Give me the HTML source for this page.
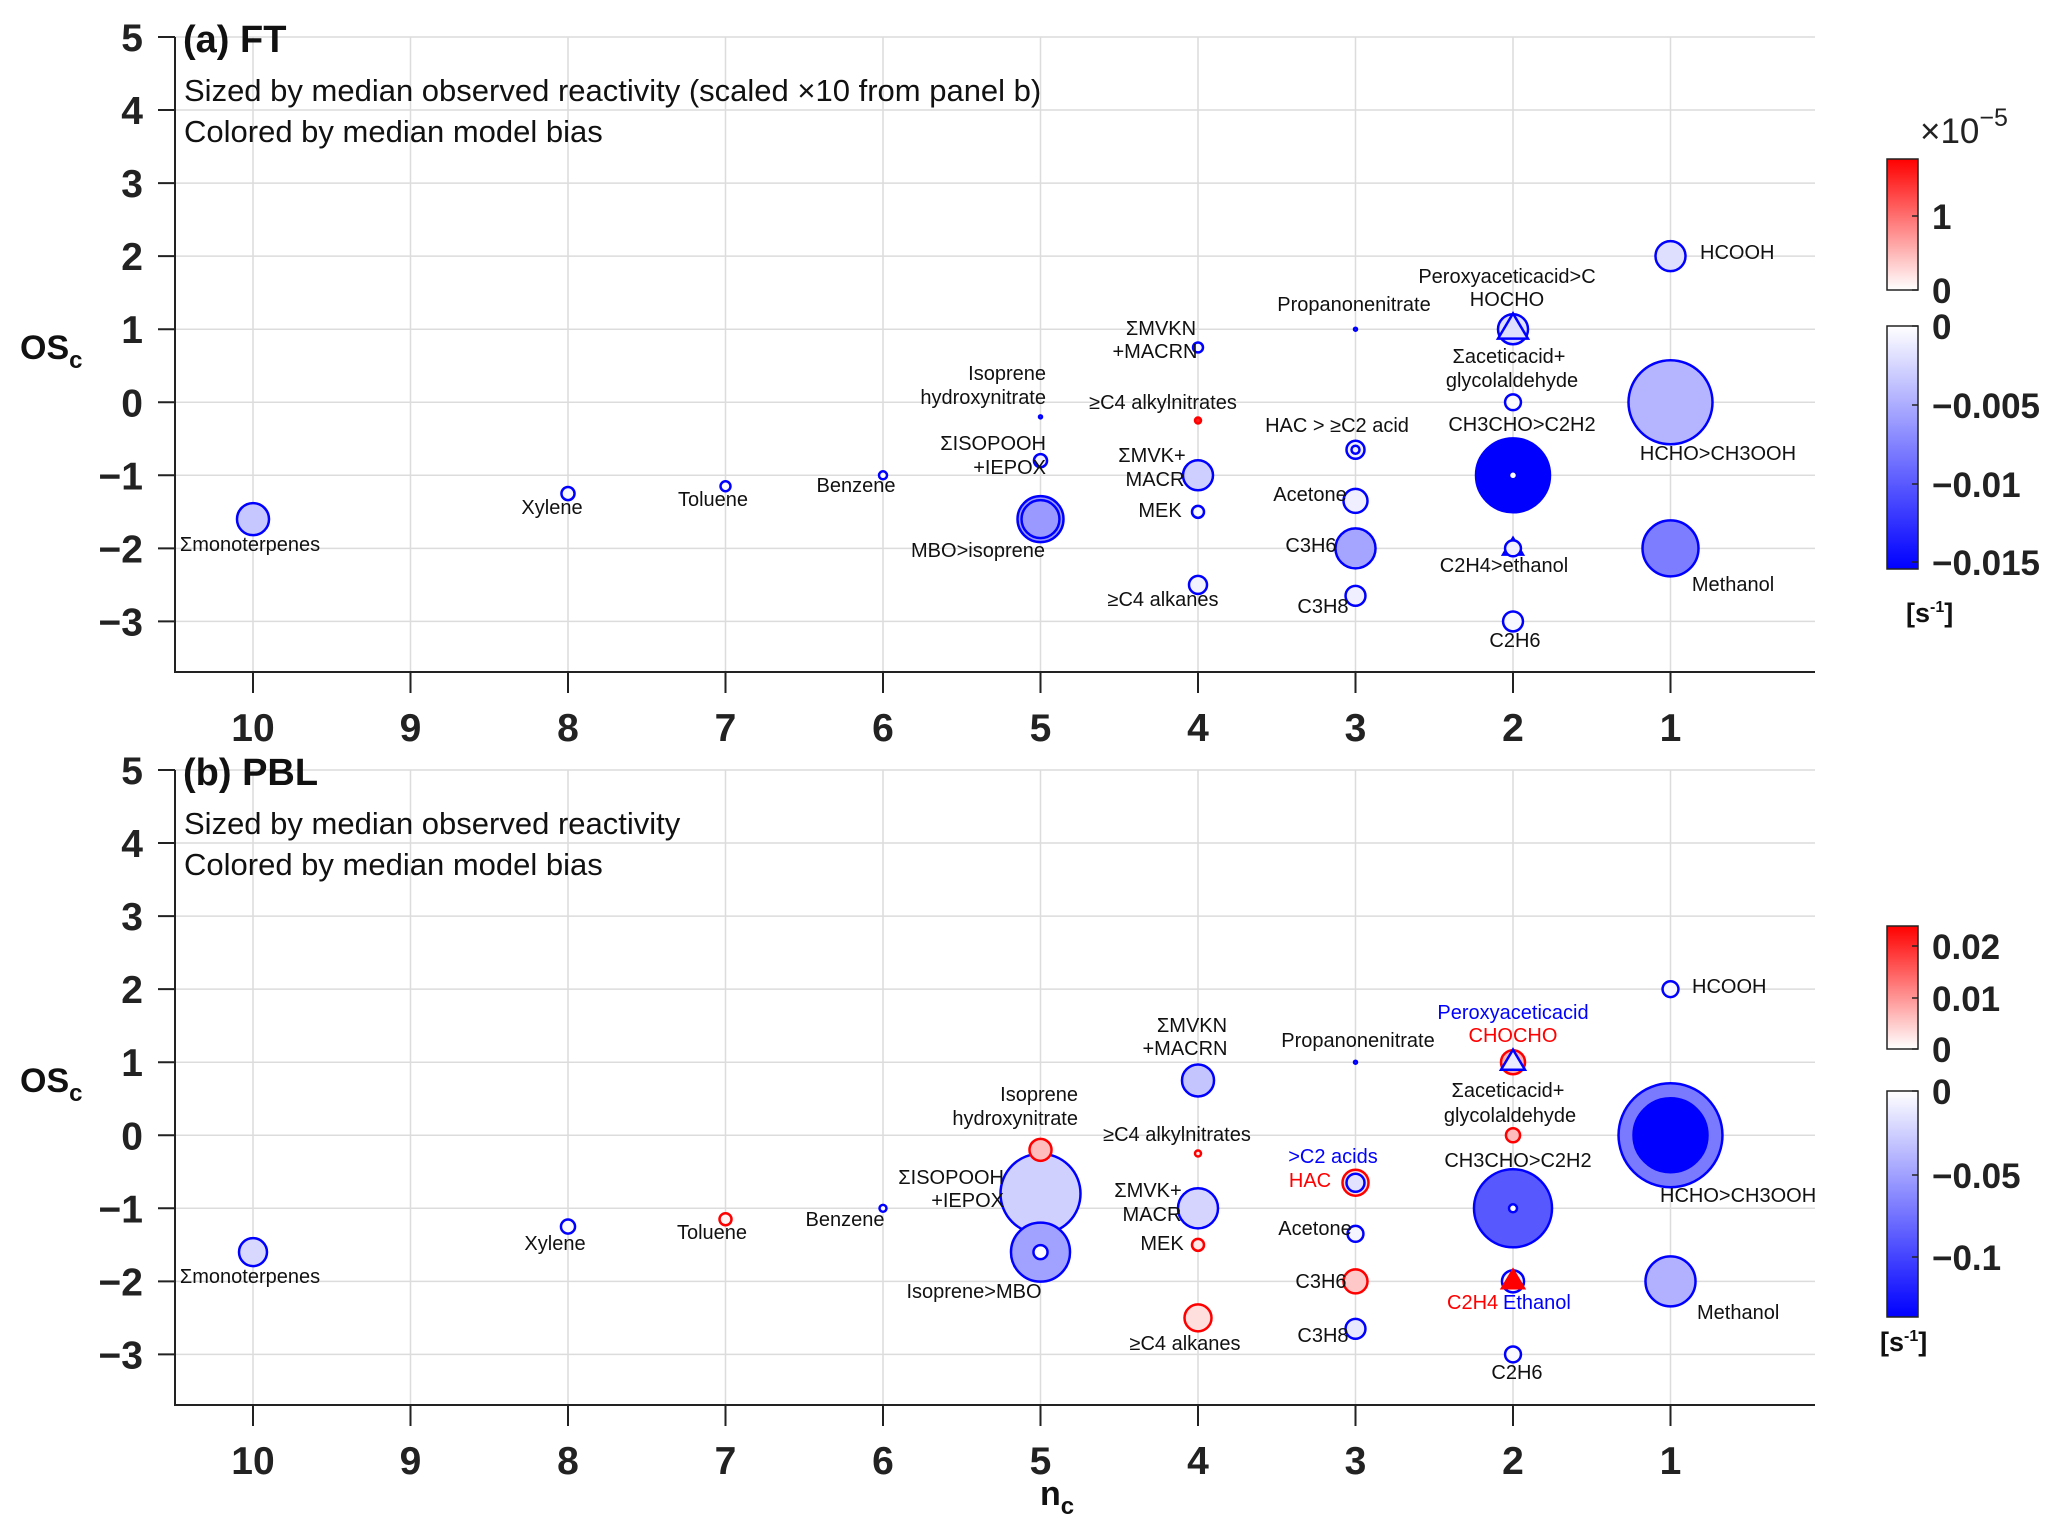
<!DOCTYPE html>
<html><head><meta charset="utf-8"><style>
html,body{margin:0;padding:0;background:#fff;}
svg{display:block;font-family:"Liberation Sans",Arial,sans-serif;}
</style></head><body>
<svg id="fig" width="2067" height="1531" viewBox="0 0 2067 1531" xmlns="http://www.w3.org/2000/svg">
<defs>
<linearGradient id="gRed" x1="0" y1="1" x2="0" y2="0"><stop offset="0" stop-color="#fff"/><stop offset="1" stop-color="#f00"/></linearGradient>
<linearGradient id="gBlue" x1="0" y1="0" x2="0" y2="1"><stop offset="0" stop-color="#fff"/><stop offset="1" stop-color="#00f"/></linearGradient>
</defs>
<g id="layer"></g>
</svg>
<script>
// ---------- data ----------
const xTicks = [10,9,8,7,6,5,4,3,2,1];
const yTicks = [5,4,3,2,1,0,-1,-2,-3];
// Panel (a) FT
const aNames = ["monoterpenes","Xylene","Toluene","Benzene","IsopreneHN","ISOPOOH","MBO","isoprene","MVKN","alkylnitrates","MVK+MACR","MEK","C4alkanes","Propanonenitrate","C2acid","HAC","Acetone","C3H6","C3H8","Peroxyaceticacid","HOCHO","aceticacid","CH3CHO","C2H2","C2H4","ethanol","C2H6","HCOOH","HCHO","Methanol"];
const aNc    = [10,8,7,6,5,5,5,5,4,4,4,4,4,3,3,3,3,3,3,2,2,2,2,2,2,2,2,1,1,1];
const aOs    = [-1.6,-1.25,-1.15,-1,-0.2,-0.8,-1.6,-1.6,0.75,-0.25,-1,-1.5,-2.5,1,-0.65,-0.65,-1.35,-2,-2.65,1,1,0,-1,-1,-2,-2,-3,2,0,-2];
const aReact = [0.0114,0.0019,0.0011,0.00071,0.0001,0.0019,0.0235,0.016,0.0011,0.0004,0.01,0.0016,0.0036,0.0001,0.0036,0.00071,0.0064,0.0178,0.0044,0.01,0.01,0.0028,0.0608,0.00071,0.0044,0.0028,0.0044,0.01,0.0784,0.0348];
const aBias  = [-0.0034,-0.0005,-0.0003,-0.0002,-0.001,-0.001,-0.006,-0.0062,-0.0005,0.000015,-0.003,-0.0005,-0.0008,-0.005,-0.001,-0.001,-0.001,-0.0055,-0.001,-0.002,-0.002,-0.0003,-0.0155,0,-0.001,-0.001,-0.0005,-0.002,-0.0045,-0.0079];
const aShape = ["o","o","o","o","o","o","o","o","o","o","o","o","o","o","o","o","o","o","o","o","^","o","o","o","^","o","o","o","o","o"];
// Panel (b) PBL
const bNames = ["monoterpenes","Xylene","Toluene","Benzene","IsopreneHN","ISOPOOH","Isoprene","MBO","MVKN","alkylnitrates","MVK+MACR","MEK","C4alkanes","Propanonenitrate","HAC","C2acids","Acetone","C3H6","C3H8","CHOCHO","Peroxyaceticacid","aceticacid","CH3CHO","C2H2","C2H4","Ethanol","C2H6","HCOOH","HCHO","CH3OOH","Methanol"];
const bNc    = [10,8,7,6,5,5,5,5,4,4,4,4,4,3,3,3,3,3,3,2,2,2,2,2,2,2,2,1,1,1,1];
const bOs    = [-1.6,-1.25,-1.15,-1,-0.2,-0.8,-1.6,-1.6,0.75,-0.25,-1,-1.5,-2.5,1,-0.65,-0.65,-1.35,-2,-2.65,1,1,0,-1,-1,-2,-2,-3,2,0,0,-2];
const bReact = [0.0087,0.0022,0.0016,0.00054,0.0054,0.0711,0.0387,0.0022,0.0114,0.0004,0.0178,0.0016,0.0081,0.0001,0.0075,0.0036,0.0028,0.0064,0.0044,0.0064,0.0064,0.0022,0.0676,0.00071,0.0054,0.0054,0.0028,0.0028,0.12,0.0608,0.0278];
const bBias  = [-0.02,-0.003,0.001,-0.002,0.006,-0.024,-0.048,-0.001,-0.03,0.002,-0.022,0.002,0.003,-0.05,0.003,-0.015,-0.005,0.005,-0.012,0.007,-0.01,0.006,-0.085,0,0.023,-0.005,-0.003,-0.005,-0.068,-0.13,-0.04];
const bShape = ["o","o","o","o","o","o","o","o","o","o","o","o","o","o","o","o","o","o","o","o","^","o","o","o","^","o","o","o","o","o","o"];

const NS = "http://www.w3.org/2000/svg";
const root = document.getElementById('layer');
function mk(tag, attrs, parent, txt){
  const e = document.createElementNS(NS, tag);
  for (const k in attrs) e.setAttribute(k, attrs[k]);
  if (txt !== undefined) e.textContent = txt;
  (parent || root).appendChild(e);
  return e;
}
const L = 175, R = 1815;
function xS(nc){ return 253 + (10 - nc) * 157.5; }
function rS(v){ return 150 * Math.sqrt(v); }
function colorOf(b, minB, maxB){
  if (b < 0){ const t = Math.min(1, b / minB); const c = Math.round(255*(1-t)); return `rgb(${c},${c},255)`; }
  const t = Math.min(1, b / maxB); const c = Math.round(255*(1-t)); return `rgb(255,${c},${c})`;
}

function panel(key, top, names, nc, os, react, bias, shape, minB, maxB, title, sub1, sub2){
  const yS = os => top + (5 - os) * 73.05;
  const bottom = top + 635;
  const g = mk('g', {});
  
  
  xTicks.forEach(t => {
    const l = mk('line', {x1:xS(t), x2:xS(t), y1:top, y2:bottom, stroke:'#dcdcdc', 'stroke-width':1.5}, g);
    
    
  });
  yTicks.forEach(t => {
    const l = mk('line', {x1:L, x2:R, y1:yS(t), y2:yS(t), stroke:'#dcdcdc', 'stroke-width':1.5}, g);
    
    
  });
  const ax = mk('path', {d:`M${L},${top} V${bottom} H${R}`, fill:'none', stroke:'#222', 'stroke-width':2}, g);
  
  
  xTicks.forEach(t => {
    mk('line', {x1:xS(t), x2:xS(t), y1:bottom, y2:bottom+21, stroke:'#222', 'stroke-width':2}, g);
    const tx = mk('text', {x:xS(t), y:bottom+69, 'text-anchor':'middle', 'font-size':39, 'font-weight':'bold', fill:'#222'}, g, String(t));
    
    
  });
  yTicks.forEach(t => {
    mk('line', {x1:L-17, x2:L, y1:yS(t), y2:yS(t), stroke:'#222', 'stroke-width':2}, g);
    const tx = mk('text', {x:L-32, y:yS(t)+14, 'text-anchor':'end', 'font-size':39, 'font-weight':'bold', fill:'#222'}, g, (t<0?'\u2212'+(-t):String(t)));
    
    
  });
  // markers, large first; triangles drawn after circles of equal size
  const idx = names.map((_, i) => i).sort((a, b) => (react[b] - react[a]) || ((shape[a]==='^') - (shape[b]==='^')));
  idx.forEach(i => {
    const cx = xS(nc[i]), cy = yS(os[i]), r = rS(react[i]);
    const fill = colorOf(bias[i], minB, maxB);
    const stroke = bias[i] > 0 ? '#ff0000' : '#0000ff';
    let m;
    if (shape[i] === '^'){
      const rr = r * 1.05;
      const p = [[cx, cy - rr], [cx + rr*0.95, cy + rr*0.6], [cx - rr*0.95, cy + rr*0.6]];
      m = mk('polygon', {points:p.map(q => q.join(',')).join(' '), fill:fill, stroke:stroke, 'stroke-width':2.5}, g);
    } else {
      m = mk('circle', {cx:cx, cy:cy, r:r, fill:fill, stroke:stroke, 'stroke-width':2.5}, g);
    }
    
    
  });
  const t1 = mk('text', {x:183, y:top+15, 'font-size':38, 'font-weight':'bold', fill:'#111'}, g, title);
  
  
  const s1 = mk('text', {x:184, y:top+64, 'font-size':31, fill:'#111'}, g, sub1);
  
  
  const s2 = mk('text', {x:184, y:top+105, 'font-size':31, fill:'#111'}, g, sub2);
  
  
  const yl = mk('text', {x:20, y:top+322, 'font-size':34, 'font-weight':'bold', fill:'#111'}, g);
  
  
  mk('tspan', {}, yl, 'OS');
  mk('tspan', {'font-size':24, dy:9}, yl, 'c');
  return {g, yS};
}

function label(g, x, y, txt, anchor, color){
  const t = mk('text', {x:x, y:y+7, 'text-anchor':anchor||'middle', 'font-size':20, fill:color||'#111'}, g, txt);
  
  
  return t;
}

const pa = panel('ft', 37, aNames, aNc, aOs, aReact, aBias, aShape, -0.0155, 0.000017,
  '(a) FT', 'Sized by median observed reactivity (scaled \u00d710 from panel b)', 'Colored by median model bias');
[[250,544,'\u03a3monoterpenes'],[552,507,'Xylene'],[713,499,'Toluene'],[856,485,'Benzene'],
 [1046,373,'Isoprene','end'],[1046,397,'hydroxynitrate','end'],[1046,443,'\u03a3ISOPOOH','end'],[1046,467,'+IEPOX','end'],
 [978,550,'MBO>isoprene'],[1161,328,'\u03a3MVKN'],[1155,351,'+MACRN'],[1163,402,'\u2265C4 alkylnitrates'],
 [1152,455,'\u03a3MVK+'],[1155,479,'MACR'],[1160,510,'MEK'],[1163,599,'\u2265C4 alkanes'],
 [1354,304,'Propanonenitrate'],[1337,425,'HAC > \u2265C2 acid'],[1310,494,'Acetone'],[1311,545,'C3H6'],[1323,606,'C3H8'],
 [1507,276,'Peroxyaceticacid>C'],[1507,299,'HOCHO'],[1509,356,'\u03a3aceticacid+'],[1512,380,'glycolaldehyde'],
 [1522,424,'CH3CHO>C2H2'],[1504,565,'C2H4>ethanol'],[1515,640,'C2H6'],
 [1700,252,'HCOOH','start'],[1718,453,'HCHO>CH3OOH','middle'],[1733,584,'Methanol','middle']
].forEach(d => label(pa.g, d[0], d[1], d[2], d[3]));

const pb = panel('pbl', 770, bNames, bNc, bOs, bReact, bBias, bShape, -0.13, 0.023,
  '(b) PBL', 'Sized by median observed reactivity', 'Colored by median model bias');
[[250,1276,'\u03a3monoterpenes'],[555,1243,'Xylene'],[712,1232,'Toluene'],[845,1219,'Benzene'],
 [1078,1094,'Isoprene','end'],[1078,1118,'hydroxynitrate','end'],[1004,1177,'\u03a3ISOPOOH','end'],[1004,1200,'+IEPOX','end'],
 [974,1291,'Isoprene>MBO'],[1192,1025,'\u03a3MVKN'],[1185,1048,'+MACRN'],[1177,1134,'\u2265C4 alkylnitrates'],
 [1148,1190,'\u03a3MVK+'],[1152,1214,'MACR'],[1162,1243,'MEK'],[1185,1343,'\u2265C4 alkanes'],
 [1358,1040,'Propanonenitrate'],[1333,1156,'>C2 acids','middle','#0000ff'],[1310,1180,'HAC','middle','#ff0000'],
 [1315,1228,'Acetone'],[1321,1281,'C3H6'],[1323,1335,'C3H8'],
 [1513,1012,'Peroxyaceticacid','middle','#0000ff'],[1513,1035,'CHOCHO','middle','#ff0000'],
 [1508,1090,'\u03a3aceticacid+'],[1510,1115,'glycolaldehyde'],[1518,1160,'CH3CHO>C2H2'],
 [1447,1302,'C2H4','start','#ff0000'],[1503,1302,'Ethanol','start','#0000ff'],[1517,1372,'C2H6'],
 [1692,986,'HCOOH','start'],[1660,1195,'HCHO>CH3OOH','start'],[1697,1312,'Methanol','start']
].forEach(d => label(pb.g, d[0], d[1], d[2], d[3], d[4]));

const xl = mk('text', {x:1040, y:1505, 'font-size':34, 'font-weight':'bold', fill:'#111'});


mk('tspan', {}, xl, 'n');
mk('tspan', {'font-size':24, dy:9}, xl, 'c');

function colorbar(name, y0, y1, grad, ticks){
  const g = mk('g', {});
  
  
  mk('rect', {x:1887, y:y0, width:31, height:y1-y0, fill:`url(#${grad})`, stroke:'#222', 'stroke-width':1.5}, g);
  ticks.forEach(t => {
    mk('line', {x1:1912, x2:1918, y1:t[0], y2:t[0], stroke:'#222', 'stroke-width':1.5}, g);
    const tx = mk('text', {x:1932, y:t[0]+13, 'font-size':35, 'font-weight':'bold', fill:'#222'}, g, t[1]);
    
    
  });
}
colorbar('colorbar-a-positive', 159, 290, 'gRed', [[216,'1'],[290,'0']]);
colorbar('colorbar-a-negative', 326, 569, 'gBlue', [[326,'0'],[405,'\u22120.005'],[484,'\u22120.01'],[562,'\u22120.015']]);
colorbar('colorbar-b-positive', 926, 1049, 'gRed', [[946,'0.02'],[998,'0.01'],[1049,'0']]);
colorbar('colorbar-b-negative', 1091, 1317, 'gBlue', [[1091,'0'],[1175,'\u22120.05'],[1257,'\u22120.1']]);
const ex = mk('text', {x:1920, y:143, 'font-size':35, fill:'#222'});


mk('tspan', {}, ex, '\u00d710');
mk('tspan', {'font-size':25, dy:-17}, ex, '\u22125');
[[1906,622],[1880,1351]].forEach(p => {
  const u = mk('text', {x:p[0], y:p[1], 'font-size':27, 'font-weight':'bold', fill:'#111'});
  
  
  mk('tspan', {}, u, '[s');
  mk('tspan', {'font-size':16, dy:-10}, u, '-1');
  mk('tspan', {dy:10}, u, ']');
});
</script>
</body></html>
